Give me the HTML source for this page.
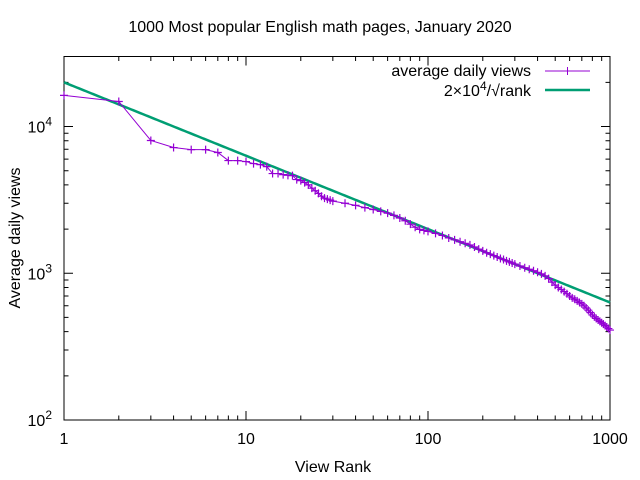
<!DOCTYPE html>
<html><head><meta charset="utf-8"><style>
body{margin:0;background:#fff}
svg{display:block;font-family:"Liberation Sans",sans-serif}
</style></head><body>
<svg id="c" width="640" height="480">
<text x="320" y="32" text-anchor="middle" font-size="16">1000 Most popular English math pages, January 2020</text>
<text x="333" y="472" text-anchor="middle" font-size="16">View Rank</text>
<text transform="translate(20,238) rotate(-90)" text-anchor="middle" font-size="16">Average daily views</text>
<g id="axes"></g>
<g id="series"></g>
<g>
<text x="531" y="76" text-anchor="end" font-size="16">average daily views</text>
<line x1="545" y1="71" x2="590" y2="71" stroke="#9400d3" stroke-width="1"/>
<path d="M563.5 71h8M567.5 67v8" stroke="#9400d3" stroke-width="1"/>
<text x="531" y="96" text-anchor="end" font-size="16">2×10<tspan dy="-6" font-size="12">4</tspan><tspan dy="6">/√rank</tspan></text>
<line x1="545" y1="90" x2="590" y2="90" stroke="#009e73" stroke-width="2.5"/>
</g>
</svg>
<script>
const ranks=[1,2,3,4,5,6,7,8,9,10,11,12,13,14,15,16,17,18,19,20,21,22,23,24,25,26,27,28,29,30,
35,40,45,50,55,60,65,70,75,80,85,90,95,100,
110,120,130,140,150,160,170,180,190,200,210,220,230,240,250,260,270,280,290,300,
320,340,360,380,400,420,440,460,480,500,520,540,560,580,600,620,640,660,680,700,720,740,760,780,800,820,840,860,880,900,920,940,960,980,1000];
const views=[16300,14800,8030,7190,6960,6960,6650,5860,5860,5770,5590,5500,5330,4780,4780,4700,4650,4630,4350,4280,4150,4000,3800,3650,3500,3350,3250,3200,3150,3100,
3000,2900,2800,2720,2640,2570,2480,2380,2280,2160,2060,1990,1960,1930,
1870,1810,1740,1690,1640,1600,1560,1510,1460,1420,1380,1350,1320,1290,1260,1240,1215,1195,1175,1155,
1120,1090,1065,1040,1015,990,960,920,870,830,800,775,750,725,700,680,665,648,632,618,600,580,560,540,520,505,492,480,470,460,450,440,430,420,410];
const xTicks=[1,10,100,1000];
const xTickLabels=["1","10","100","1000"];
const yTicks=[100,1000,10000];
const yTickLabels=["2","3","4"];
const fitCoef=20000;
const L=64,R=610,T=56.5,B=420;
const X=r=>L+(R-L)*Math.log10(r)/3;
const yMin=2,yMax=Math.log10(30000);
const Y=v=>B-(B-T)*(Math.log10(v)-yMin)/(yMax-yMin);
const NS="http://www.w3.org/2000/svg";
function mk(tag,attrs,parent){const e=document.createElementNS(NS,tag);for(const k in attrs)e.setAttribute(k,attrs[k]);parent.appendChild(e);return e;}
const ax=document.getElementById('axes');
let f=mk('rect',{x:L,y:T,width:R-L,height:B-T,fill:'none',stroke:'#000','stroke-width':1},ax);


let td='';
for(let d=0;d<3;d++)for(let m=1;m<10;m++){const r=Math.pow(10,d)*m;const x=X(r);const len=m==1?9:4.5;td+=`M${x} ${B}v${-len}M${x} ${T}v${len}`;}
td+=`M${R} ${B}v-9M${R} ${T}v9`;
for(let d=2;d<5;d++)for(let m=1;m<10;m++){const v=Math.pow(10,d)*m;if(v>30000)break;const y=Y(v);const len=m==1?9:4.5;td+=`M${L} ${y}h${len}M${R} ${y}h${-len}`;}
let tk=mk('path',{d:td,stroke:'#000','stroke-width':1,fill:'none'},ax);


xTicks.forEach((t,i)=>{const e=mk('text',{x:X(t),y:444,'text-anchor':'middle','font-size':16},ax);e.textContent=xTickLabels[i];

});
yTicks.forEach((t,i)=>{const e=mk('text',{x:52,y:Y(t)+6,'text-anchor':'end','font-size':16},ax);e.innerHTML='10<tspan dy="-7" font-size="12">'+yTickLabels[i]+'</tspan>';

});
const sg=document.getElementById('series');
let fd='';for(let i=0;i<=300;i++){const r=Math.pow(10,3*i/300);fd+=(i?'L':'M')+X(r).toFixed(2)+' '+Y(fitCoef/Math.sqrt(r)).toFixed(2);}
let fl=mk('path',{d:fd,stroke:'#009e73','stroke-width':2.5,fill:'none'},sg);


let pd='';ranks.forEach((r,i)=>{pd+=(i?'L':'M')+X(r).toFixed(2)+' '+Y(views[i]).toFixed(2);});
let pl=mk('path',{d:pd,stroke:'#9400d3','stroke-width':1,fill:'none'},sg);


ranks.forEach((r,i)=>{const x=X(r),y=Y(views[i]);
const m=mk('path',{d:`M${x-4} ${y}h8M${x} ${y-4}v8`,stroke:'#9400d3','stroke-width':1.2},sg);

});
</script>
</body></html>
